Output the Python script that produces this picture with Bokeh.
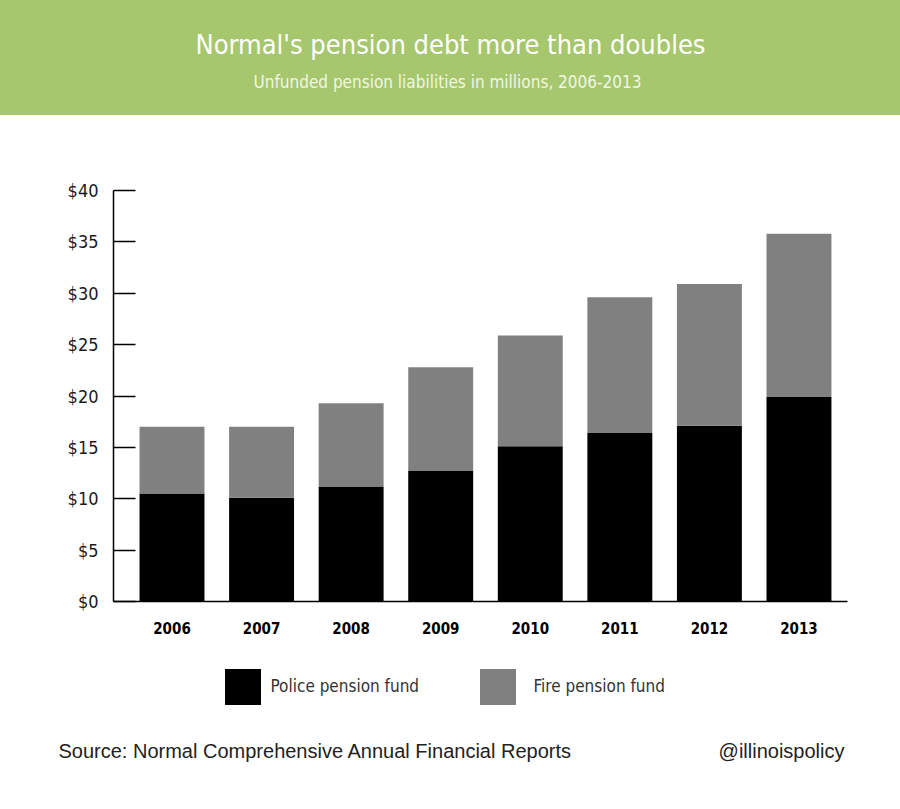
from bokeh.plotting import figure
from bokeh.layouts import column
from bokeh.models import (Range1d, FixedTicker, Label, Legend, LegendItem,
                          ColumnDataSource)
from bokeh.embed import file_html
from bokeh.resources import INLINE

# Unfunded pension liabilities, $ millions
years = ["2006", "2007", "2008", "2009", "2010", "2011", "2012", "2013"]
police = [10.5, 10.1, 11.2, 12.7, 15.1, 16.4, 17.1, 19.9]
fire = [6.5, 6.9, 8.1, 10.1, 10.8, 13.2, 13.8, 15.9]
y_ticks = [0, 5, 10, 15, 20, 25, 30, 35, 40]
y_tick_labels = ["$0", "$5", "$10", "$15", "$20", "$25", "$30", "$35", "$40"]

title_text = "Normal's pension debt more than doubles"
subtitle_text = "Unfunded pension liabilities in millions, 2006-2013"
source_text = "Source: Normal Comprehensive Annual Financial Reports"
handle_text = "@illinoispolicy"

GREEN = "#a6c76d"
GREY = "#808080"
COND = "Liberation Sans Narrow, DejaVu Sans Condensed, sans-serif"
PLAIN = "Liberation Sans, Arial, sans-serif"

LEFT = 55  # left border shared by header and chart

# ---- header band (green comes from the element's own CSS background) ----
head = figure(width=900, height=115, x_range=Range1d(LEFT, 900), y_range=Range1d(115, 0),
              output_backend="svg", toolbar_location=None,
              min_border_left=LEFT, min_border_right=0, min_border_top=0, min_border_bottom=0,
              background_fill_alpha=0, border_fill_alpha=0,
              styles={"background-color": GREEN})
head.axis.visible = False
head.grid.visible = False
head.outline_line_color = None
head.add_layout(Label(x=450, y=44, text=title_text, text_align="center",
                      text_baseline="middle", text_color="white",
                      text_font=COND, text_font_size="27px"))
head.add_layout(Label(x=447, y=81, text=subtitle_text, text_align="center",
                      text_baseline="middle", text_color="#f1f6e6",
                      text_font=COND, text_font_size="17px"))

# ---- stacked bar chart ----
idx = list(range(len(years)))
src = ColumnDataSource(dict(x=idx, police=police, fire=fire))

# axes sit at fixed locations inside a frame that also holds legend and source line
x_lo, x_hi = -0.653, 7.541
p = figure(width=900, height=694,
           x_range=Range1d(-1.3007, 8.1335), y_range=Range1d(-16.350, 47.299),
           output_backend="svg", toolbar_location=None,
           min_border_left=LEFT, min_border_right=0, min_border_top=0, min_border_bottom=40)
p.grid.visible = False
p.outline_line_color = None

rs = p.vbar_stack(["police", "fire"], x="x", width=0.725, source=src,
                  color=["#000000", GREY], line_color=None)

p.yaxis.fixed_location = x_lo
p.yaxis.bounds = (0, 40)
p.yaxis.ticker = FixedTicker(ticks=y_ticks)
p.yaxis.major_label_overrides = {t: s for t, s in zip(y_ticks, y_tick_labels)}
p.yaxis.major_tick_in = 22
p.yaxis.major_tick_out = 0
p.yaxis.minor_tick_line_color = None
p.yaxis.major_tick_line_width = 1.5
p.yaxis.axis_line_width = 1.5
p.yaxis.major_label_standoff = 15
p.yaxis.major_label_text_font = COND
p.yaxis.major_label_text_font_size = "18px"
p.yaxis.major_label_text_color = "#1a1a1a"

p.xaxis.fixed_location = 0
p.xaxis.bounds = (x_lo, x_hi)
p.xaxis.ticker = FixedTicker(ticks=idx)
p.xaxis.major_label_overrides = {i: y for i, y in zip(idx, years)}
p.xaxis.major_tick_in = 0
p.xaxis.major_tick_out = 0
p.xaxis.minor_tick_line_color = None
p.xaxis.axis_line_width = 1.5
p.xaxis.major_label_standoff = 20
p.xaxis.major_label_text_font = COND
p.xaxis.major_label_text_font_style = "bold"
p.xaxis.major_label_text_font_size = "15px"
p.xaxis.major_label_text_color = "#000000"

# legend entries below the axis
for r, name, loc, gap in [(rs[0], "Police pension fund", (164.5, 60.5), 6),
                          (rs[1], "Fire pension fund", (419.5, 60.5), 14)]:
    lg = Legend(items=[LegendItem(label=name, renderers=[r])], location=loc,
                glyph_width=45, glyph_height=45, label_standoff=gap, padding=0, margin=0,
                border_line_color=None, background_fill_alpha=0,
                label_text_font=COND, label_text_font_size="17px",
                label_text_color="#333333", label_height=45)
    p.add_layout(lg)

p.add_layout(Label(x=3, y=19, x_units="screen", y_units="screen", text=source_text,
                   text_font=PLAIN, text_font_size="20px", text_color="#222222",
                   text_baseline="middle"))
p.add_layout(Label(x=789, y=19, x_units="screen", y_units="screen", text=handle_text,
                   text_font=PLAIN, text_font_size="20px", text_color="#222222",
                   text_align="right", text_baseline="middle"))

layout = column(head, p, spacing=0)
open("out.html", "w").write(file_html(layout, INLINE))
